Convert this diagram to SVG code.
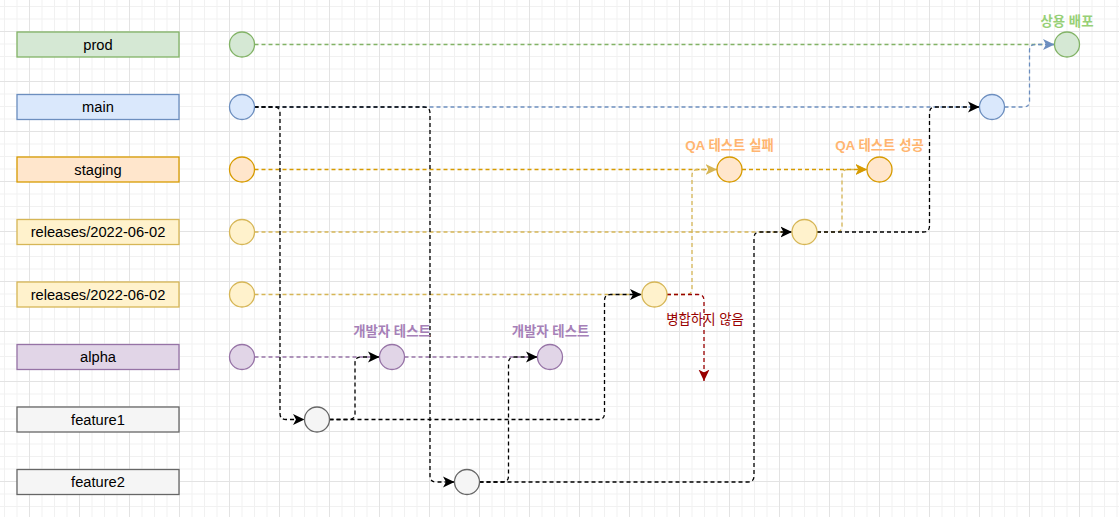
<svg xmlns="http://www.w3.org/2000/svg" width="1119" height="517" viewBox="0 0 1119 517">
<style>
.box{stroke-width:1.3}
.lbl{font-family:"Liberation Sans",Arial,sans-serif;font-size:14.7px;fill:#000;text-anchor:middle}
.note{font-family:"Liberation Sans","Noto Sans CJK KR",sans-serif;font-size:13.4px;font-weight:bold;text-anchor:middle}
.c{stroke-width:1.3}
.e{fill:none;stroke-width:1.3;stroke-dasharray:4 3}
.k{stroke:#000}
.g{stroke:#82b366}
.b{stroke:#6c8ebf}
.o{stroke:#d79b00}
.y{stroke:#d6b656}
.p{stroke:#9673a6}
.r{stroke:#990000}
.green{fill:#d5e8d4;stroke:#82b366}
.blue{fill:#dae8fc;stroke:#6c8ebf}
.orange{fill:#ffe6cc;stroke:#d79b00}
.yellow{fill:#fff2cc;stroke:#d6b656}
.purple{fill:#e1d5e7;stroke:#9673a6}
.gray{fill:#f5f5f5;stroke:#666666}
</style>
<defs>
<pattern id="grid" patternUnits="userSpaceOnUse" x="29" y="31" width="50" height="50">
<path d="M13,0V50M25.5,0V50M38,0V50M0,13H50M0,25.5H50M0,38H50" stroke="#f1f1f1" stroke-width="1" fill="none"/>
<path d="M0.5,0V50M0,0.5H50" stroke="#e3e3e3" stroke-width="1" fill="none"/>
</pattern>
<marker id="ak" markerUnits="userSpaceOnUse" markerWidth="13" markerHeight="13" refX="11.5" refY="6" orient="auto"><path d="M0,0.5L11.5,6L0,11.5L3,6Z" fill="#000"/></marker>
<marker id="ab" markerUnits="userSpaceOnUse" markerWidth="13" markerHeight="13" refX="11.5" refY="6" orient="auto"><path d="M0,0.5L11.5,6L0,11.5L3,6Z" fill="#6c8ebf"/></marker>
<marker id="ao" markerUnits="userSpaceOnUse" markerWidth="13" markerHeight="13" refX="11.5" refY="6" orient="auto"><path d="M0,0.5L11.5,6L0,11.5L3,6Z" fill="#d79b00"/></marker>
<marker id="ay" markerUnits="userSpaceOnUse" markerWidth="13" markerHeight="13" refX="11.5" refY="6" orient="auto"><path d="M0,0.5L11.5,6L0,11.5L3,6Z" fill="#d6b656"/></marker>
<marker id="ar" markerUnits="userSpaceOnUse" markerWidth="13" markerHeight="13" refX="11.5" refY="6" orient="auto"><path d="M0,0.5L11.5,6L0,11.5L3,6Z" fill="#990000"/></marker>
</defs>
<rect width="1119" height="517" fill="#fff"/>
<rect width="1119" height="517" fill="url(#grid)"/>

<g id="labels">
<g id="lbl-prod"><rect class="box green" x="17" y="32" width="162" height="25"/><text class="lbl" x="98" y="49.6">prod</text></g>
<g id="lbl-main"><rect class="box blue" x="17" y="94.5" width="162" height="25"/><text class="lbl" x="98" y="112.1">main</text></g>
<g id="lbl-staging"><rect class="box orange" x="17" y="157" width="162" height="25"/><text class="lbl" x="98" y="174.6">staging</text></g>
<g id="lbl-rel1"><rect class="box yellow" x="17" y="219.5" width="162" height="25"/><text class="lbl" x="98" y="237.1">releases/2022-06-02</text></g>
<g id="lbl-rel2"><rect class="box yellow" x="17" y="282" width="162" height="25"/><text class="lbl" x="98" y="299.6">releases/2022-06-02</text></g>
<g id="lbl-alpha"><rect class="box purple" x="17" y="344.5" width="162" height="25"/><text class="lbl" x="98" y="362.1">alpha</text></g>
<g id="lbl-feature1"><rect class="box gray" x="17" y="407" width="162" height="25"/><text class="lbl" x="98" y="424.6">feature1</text></g>
<g id="lbl-feature2"><rect class="box gray" x="17" y="469.5" width="162" height="25"/><text class="lbl" x="98" y="487.1">feature2</text></g>
</g>

<g id="connectors">
<path class="e g" d="M254.5,44.5H1054.5"/>
<path class="e b" d="M254.5,107H979.5"/>
<path class="e o" d="M254.5,169.5H717"/>
<path class="e y" d="M254.5,232H792"/>
<path class="e y" d="M254.5,294.5H641.5"/>
<path class="e p" d="M254.5,357H379.5"/>
<path class="e p" d="M404.5,357H537.5"/>
<path class="e b" marker-end="url(#ab)" d="M1004.5,107H1023.5Q1029.5,107 1029.5,101V50.5Q1029.5,44.5 1035.5,44.5H1054.5"/>
<path class="e y" marker-end="url(#ay)" d="M667,294.5H686Q692,294.5 692,288.5V175.5Q692,169.5 698,169.5H717"/>
<path class="e y" marker-end="url(#ay)" d="M817,232H836Q842,232 842,226V175.5Q842,169.5 848,169.5H867"/>
<path class="e o" marker-end="url(#ao)" d="M742,169.5H867"/>
<path class="e r" marker-end="url(#ar)" d="M667,294.5H698Q704,294.5 704,300.5V381"/>
<path class="e k" marker-end="url(#ak)" d="M254.5,107H274Q280,107 280,113V413.5Q280,419.5 286,419.5H304.5"/>
<path class="e k" marker-end="url(#ak)" d="M254.5,107H424Q430,107 430,113V476Q430,482 436,482H454.5"/>
<path class="e k" marker-end="url(#ak)" d="M329.5,419.5H349Q355,419.5 355,413.5V363Q355,357 361,357H379.5"/>
<path class="e k" marker-end="url(#ak)" d="M329.5,419.5H598.5Q604.5,419.5 604.5,413.5V300.5Q604.5,294.5 610.5,294.5H641.5"/>
<path class="e k" marker-end="url(#ak)" d="M479.5,482H502.5Q508.5,482 508.5,476V363Q508.5,357 514.5,357H537.5"/>
<path class="e k" marker-end="url(#ak)" d="M479.5,482H748Q754,482 754,476V238Q754,232 760,232H792"/>
<path class="e k" marker-end="url(#ak)" d="M817,232H923.5Q929.5,232 929.5,226V113Q929.5,107 935.5,107H979.5"/>
</g>

<g id="nodes">
<g id="n-prod-start"><circle class="c green" cx="242" cy="44.5" r="12.5"/></g>
<g id="n-prod-deploy"><circle class="c green" cx="1067" cy="44.5" r="12.5"/><text class="note" x="1067" y="25.5" fill="#97d077">상용 배포</text></g>
<g id="n-main-start"><circle class="c blue" cx="242" cy="107" r="12.5"/></g>
<g id="n-main-merge"><circle class="c blue" cx="992" cy="107" r="12.5"/></g>
<g id="n-staging-start"><circle class="c orange" cx="242" cy="169.5" r="12.5"/></g>
<g id="n-qa-fail"><circle class="c orange" cx="729.5" cy="169.5" r="12.5"/><text class="note" x="729.5" y="149.5" fill="#ffb570">QA 테스트 실패</text></g>
<g id="n-qa-ok"><circle class="c orange" cx="879.5" cy="169.5" r="12.5"/><text class="note" x="879.5" y="149.5" fill="#ffb570">QA 테스트 성공</text></g>
<g id="n-rel1-start"><circle class="c yellow" cx="242" cy="232" r="12.5"/></g>
<g id="n-rel1-merge"><circle class="c yellow" cx="804.5" cy="232" r="12.5"/></g>
<g id="n-rel2-start"><circle class="c yellow" cx="242" cy="294.5" r="12.5"/></g>
<g id="n-rel2-merge"><circle class="c yellow" cx="654.5" cy="294.5" r="12.5"/><text x="705" y="324" fill="#990000" font-family="Liberation Sans,Noto Sans CJK KR,sans-serif" font-size="13.4" text-anchor="middle">병합하지 않음</text></g>
<g id="n-alpha-start"><circle class="c purple" cx="242" cy="357" r="12.5"/></g>
<g id="n-alpha-1"><circle class="c purple" cx="392" cy="357" r="12.5"/><text class="note" x="392" y="336" fill="#a680b8">개발자 테스트</text></g>
<g id="n-alpha-2"><circle class="c purple" cx="550" cy="357" r="12.5"/><text class="note" x="550.5" y="336" fill="#a680b8">개발자 테스트</text></g>
<g id="n-feature1"><circle class="c gray" cx="317" cy="419.5" r="12.5"/></g>
<g id="n-feature2"><circle class="c gray" cx="467" cy="482" r="12.5"/></g>
</g>
</svg>
